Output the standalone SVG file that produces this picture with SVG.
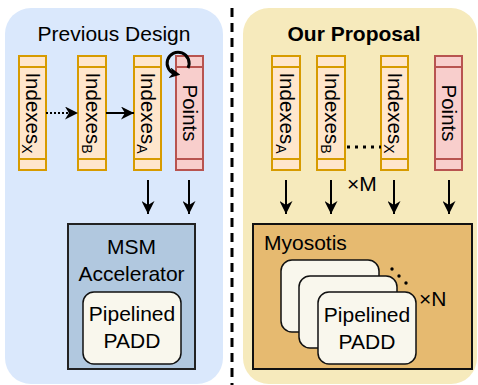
<svg xmlns="http://www.w3.org/2000/svg" width="478" height="385" viewBox="0 0 478 385">
<defs>
<marker id="ah" viewBox="0 0 10 10" refX="10" refY="5" markerWidth="13" markerHeight="13" markerUnits="userSpaceOnUse" orient="auto">
<path d="M0,0 L10,5 L0,10 L3,5 Z" fill="#000"/>
</marker>
<marker id="ahs" viewBox="0 0 10 10" refX="10" refY="5" markerWidth="13" markerHeight="13" markerUnits="userSpaceOnUse" orient="auto">
<path d="M0,0 L10,5 L0,10 L3,5 Z" fill="#000"/>
</marker>
<marker id="ahc" viewBox="0 0 10 10" refX="6" refY="5" markerWidth="11" markerHeight="11" markerUnits="userSpaceOnUse" orient="auto">
<path d="M0,0 L10,5 L0,10 L3,5 Z" fill="#000"/>
</marker>
<style>
text{font-family:"Liberation Sans",Arial,sans-serif;fill:#000;}
.t{font-size:21px;}
.tb{font-size:21px;font-weight:bold;}
.v{font-size:20.5px;}
.idx rect{fill:#ffe6cc;stroke:#d79b00;stroke-width:2;}
.idx line{stroke:#d79b00;stroke-width:2;}
.pts rect{fill:#f8cecc;stroke:#b85450;stroke-width:2;}
.pts line{stroke:#b85450;stroke-width:2;}
.arr{stroke:#000;stroke-width:2;fill:none;marker-end:url(#ah);}
.card{fill:#f9f7ed;stroke:#111;stroke-width:1.5;}
</style>
</defs>
<rect x="5" y="8" width="218" height="376" rx="26" fill="#dae8fc"/>
<rect x="243" y="8" width="234" height="376" rx="26" fill="#f6eabc"/>
<line x1="232" y1="8" x2="232" y2="385" stroke="#000" stroke-width="3" stroke-dasharray="9,6"/>
<text class="t" x="114" y="41" text-anchor="middle">Previous Design</text>
<text class="tb" x="354" y="41" text-anchor="middle">Our Proposal</text>

<g id="prev-idx-x" class="idx"><rect x="19" y="56" width="27" height="114"/><line x1="19" y1="67" x2="46" y2="67"/><line x1="19" y1="159" x2="46" y2="159"/>
<text class="v" transform="rotate(90 26 113)" x="26" y="113" text-anchor="middle">Indexes<tspan font-size="14" dy="4">X</tspan></text></g>
<g id="prev-idx-b" class="idx"><rect x="78" y="56" width="28" height="114"/><line x1="78" y1="67" x2="106" y2="67"/><line x1="78" y1="159" x2="106" y2="159"/>
<text class="v" transform="rotate(90 85.5 113)" x="85.5" y="113" text-anchor="middle">Indexes<tspan font-size="14" dy="4">B</tspan></text></g>
<g id="prev-idx-a" class="idx"><rect x="134" y="56" width="27" height="114"/><line x1="134" y1="67" x2="161" y2="67"/><line x1="134" y1="159" x2="161" y2="159"/>
<text class="v" transform="rotate(90 141 113)" x="141" y="113" text-anchor="middle">Indexes<tspan font-size="14" dy="4">A</tspan></text></g>
<g id="prev-points" class="pts"><rect x="176" y="56" width="27" height="114"/><line x1="176" y1="67" x2="203" y2="67"/><line x1="176" y1="159" x2="203" y2="159"/>
<text class="v" transform="rotate(90 182.5 113)" x="182.5" y="113" text-anchor="middle">Points</text></g>

<g id="msm">
<rect x="68" y="224" width="127" height="145" fill="#b1c8df" stroke="#222" stroke-width="2"/>
<text class="t" x="131.5" y="254" text-anchor="middle">MSM</text>
<text class="t" x="131.5" y="281" text-anchor="middle">Accelerator</text>
</g>
<g id="msm-padd">
<rect class="card" x="83" y="292" width="98" height="72" rx="11"/>
<text class="t" x="132" y="321" text-anchor="middle">Pipelined</text>
<text class="t" x="132" y="348" text-anchor="middle">PADD</text>
</g>

<g id="new-idx-a" class="idx"><rect x="272" y="56" width="28" height="114"/><line x1="272" y1="67" x2="300" y2="67"/><line x1="272" y1="159" x2="300" y2="159"/>
<text class="v" transform="rotate(90 279.5 113)" x="279.5" y="113" text-anchor="middle">Indexes<tspan font-size="14" dy="4">A</tspan></text></g>
<g id="new-idx-b" class="idx"><rect x="317" y="56" width="28" height="114"/><line x1="317" y1="67" x2="345" y2="67"/><line x1="317" y1="159" x2="345" y2="159"/>
<text class="v" transform="rotate(90 324.5 113)" x="324.5" y="113" text-anchor="middle">Indexes<tspan font-size="14" dy="4">B</tspan></text></g>
<g id="new-idx-x" class="idx"><rect x="381" y="56" width="27" height="114"/><line x1="381" y1="67" x2="408" y2="67"/><line x1="381" y1="159" x2="408" y2="159"/>
<text class="v" transform="rotate(90 388 113)" x="388" y="113" text-anchor="middle">Indexes<tspan font-size="14" dy="4">X</tspan></text></g>
<g id="new-points" class="pts"><rect x="435" y="56" width="27" height="114"/><line x1="435" y1="67" x2="462" y2="67"/><line x1="435" y1="159" x2="462" y2="159"/>
<text class="v" transform="rotate(90 441.5 113)" x="441.5" y="113" text-anchor="middle">Points</text></g>
<text class="t" x="347" y="191" font-size="20">×M</text>

<g id="myosotis">
<rect x="253" y="224" width="219" height="145" fill="#e6ba70" stroke="#111" stroke-width="2"/>
<text class="t" x="264" y="250">Myosotis</text>
</g>
<g id="padd-stack">
<rect class="card" x="281" y="260" width="98" height="72" rx="11"/>
<rect class="card" x="299" y="276" width="98" height="72" rx="11"/>
<rect class="card" x="318" y="292" width="98" height="72" rx="11"/>
<text class="t" x="367" y="322" text-anchor="middle">Pipelined</text>
<text class="t" x="367" y="349" text-anchor="middle">PADD</text>
<circle cx="392" cy="269" r="1.7" fill="#000"/>
<circle cx="399" cy="276" r="1.7" fill="#000"/>
<circle cx="406" cy="283" r="1.7" fill="#000"/>
<text class="t" x="419" y="306" font-size="20">×N</text>
</g>

<g id="connectors">
<line x1="46" y1="113" x2="78" y2="113" stroke="#000" stroke-width="2" stroke-dasharray="2,2" marker-end="url(#ahs)"/>
<line class="arr" x1="106" y1="113" x2="134" y2="113" style="marker-end:url(#ahs)"/>
<path d="M188,68 A11,11 0 1 0 176,74" stroke="#000" stroke-width="3" fill="none" marker-end="url(#ahc)"/>
<line class="arr" x1="148" y1="180" x2="148" y2="214"/>
<line class="arr" x1="189" y1="180" x2="189" y2="214"/>
<line class="arr" x1="286" y1="180" x2="286" y2="214"/>
<line class="arr" x1="331" y1="180" x2="331" y2="214"/>
<line class="arr" x1="394" y1="180" x2="394" y2="214"/>
<line class="arr" x1="449" y1="180" x2="449" y2="214"/>
<line x1="347" y1="147" x2="381" y2="147" stroke="#000" stroke-width="3" stroke-dasharray="3,5"/>
</g>
</svg>
